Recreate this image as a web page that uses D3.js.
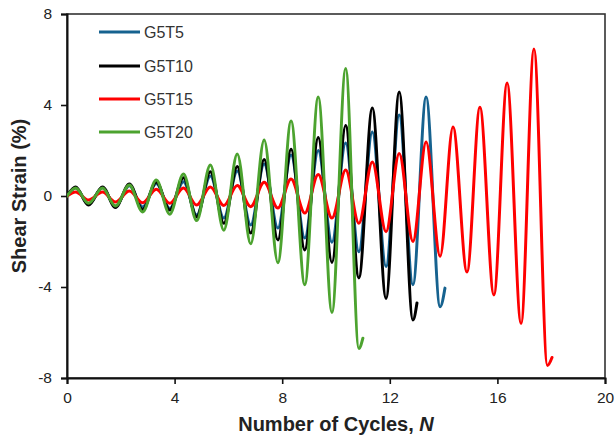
<!DOCTYPE html>
<html>
<head>
<meta charset="utf-8">
<script src="https://cdn.jsdelivr.net/npm/d3@7/dist/d3.min.js"></script>
<style>
  html, body { margin: 0; padding: 0; background: #fff; }
  svg { display: block; font-family: "Liberation Sans", Arial, sans-serif; }
</style>
</head>
<body>
<svg id="chart" width="616" height="443"></svg>
<script>
// Cycle positions (N) of the strain peaks and troughs
const peakN   = [0.32, 1.32, 2.32, 3.32, 4.33, 5.33, 6.33, 7.33, 8.33, 9.34, 10.36, 11.35, 12.35, 13.35, 14.35, 15.35, 16.36, 17.36];
const troughN = [0.80, 1.80, 2.81, 3.82, 4.82, 5.83, 6.83, 7.84, 8.84, 9.85, 10.85, 11.86, 12.86, 13.87, 14.87, 15.87, 16.88, 17.86];

// Shear strain (%) at each peak / trough, and the last recorded point
const g5t5Peaks    = [0.35, 0.36, 0.45, 0.55, 0.63, 0.88, 1.10, 1.41, 1.80, 2.00, 2.33, 2.81, 3.56, 4.35];
const g5t5Troughs  = [-0.35, -0.45, -0.48, -0.55, -0.84, -0.97, -1.27, -1.41, -1.85, -2.03, -2.45, -3.10, -3.90, -4.87];
const g5t5End      = [14.05, -4.05];

const g5t10Peaks   = [0.40, 0.40, 0.53, 0.62, 0.80, 1.07, 1.30, 1.60, 2.05, 2.57, 3.10, 3.87, 4.57];
const g5t10Troughs = [-0.40, -0.50, -0.60, -0.62, -0.92, -1.20, -1.63, -1.93, -2.37, -2.92, -3.60, -4.50, -5.45];
const g5t10End     = [13.01, -4.70];

const g5t15Peaks   = [0.18, 0.18, 0.22, 0.30, 0.35, 0.40, 0.46, 0.60, 0.75, 0.95, 1.14, 1.50, 1.87, 2.37, 3.03, 3.90, 4.97, 6.46];
const g5t15Troughs = [-0.18, -0.26, -0.30, -0.32, -0.40, -0.42, -0.47, -0.53, -0.75, -0.97, -1.20, -1.57, -2.00, -2.65, -3.34, -4.35, -5.60, -7.45];
const g5t15End     = [18.03, -7.10];

const g5t20Peaks   = [0.35, 0.35, 0.48, 0.70, 0.97, 1.36, 1.85, 2.46, 3.30, 4.35, 5.60];
const g5t20Troughs = [-0.32, -0.44, -0.70, -0.80, -1.08, -1.50, -2.10, -2.93, -3.90, -5.12, -6.70];
const g5t20End     = [11.00, -6.25];

const seriesNames  = ["G5T5", "G5T10", "G5T15", "G5T20"];
const seriesColors = ["#16628f", "#000000", "#ff0000", "#4ca32f"];

const xTicks = [0, 4, 8, 12, 16, 20];
const yTicks = [-8, -4, 0, 4, 8];

// Build the ordered turning points of one test record
function record(peaks, troughs, end) {
  const pts = [[0, 0]];
  peaks.forEach((p, i) => {
    pts.push([peakN[i], p]);
    if (i < troughs.length) pts.push([troughN[i], troughs[i]]);
  });
  pts.push(end);
  return pts;
}

const records = [
  record(g5t5Peaks, g5t5Troughs, g5t5End),
  record(g5t10Peaks, g5t10Troughs, g5t10End),
  record(g5t15Peaks, g5t15Troughs, g5t15End),
  record(g5t20Peaks, g5t20Troughs, g5t20End)
];

const svg = d3.select("#chart");
const plot = { left: 67, right: 605, top: 14, bottom: 378 };

const x = d3.scaleLinear().domain([0, 20]).range([plot.left, plot.right]);
const y = d3.scaleLinear().domain([-8, 8]).range([plot.bottom, plot.top]);

// Frame
svg.append("rect")
  .attr("x", plot.left).attr("y", plot.top)
  .attr("width", plot.right - plot.left).attr("height", plot.bottom - plot.top)
  .attr("fill", "none").attr("stroke", "#333").attr("stroke-width", 1.6);

// Axes
const xAxis = svg.append("g")
  .attr("transform", `translate(0,${plot.bottom})`)
  .call(d3.axisBottom(x).tickValues(xTicks).tickSize(6).tickPadding(8).tickFormat(d3.format("d")));
const yAxis = svg.append("g")
  .attr("transform", `translate(${plot.left},0)`)
  .call(d3.axisLeft(y).tickValues(yTicks).tickSize(6).tickPadding(9).tickFormat(d => d < 0 ? "-" + Math.abs(d) : d));

[xAxis, yAxis].forEach(a => {
  a.select(".domain").attr("stroke", "#111").attr("stroke-width", 2);
  a.selectAll(".tick line").attr("stroke", "#111").attr("stroke-width", 1.6);
  a.selectAll(".tick text").attr("fill", "#222").style("font-size", "15.5px");
});

// Strain histories
const line = d3.line()
  .x(d => x(d[0]))
  .y(d => y(d[1]))
  .curve(d3.curveMonotoneX);

svg.append("clipPath").attr("id", "plotClip")
  .append("rect")
  .attr("x", plot.left).attr("y", plot.top)
  .attr("width", plot.right - plot.left).attr("height", plot.bottom - plot.top);

svg.append("g").attr("clip-path", "url(#plotClip)")
  .selectAll("path.series")
  .data(records)
  .join("path")
  .attr("class", "series")
  .attr("d", line)
  .attr("fill", "none")
  .attr("stroke", (d, i) => seriesColors[i])
  .attr("stroke-width", 3)
  .attr("stroke-linejoin", "round")
  .attr("stroke-linecap", "round");

// Legend
const legend = svg.append("g");
const legendY = [32, 66, 99, 132];
seriesNames.forEach((name, i) => {
  legend.append("line")
    .attr("x1", 99).attr("x2", 140)
    .attr("y1", legendY[i]).attr("y2", legendY[i])
    .attr("stroke", seriesColors[i]).attr("stroke-width", 3);
  legend.append("text")
    .attr("x", 144).attr("y", legendY[i])
    .attr("dy", "0.35em")
    .attr("fill", "#333")
    .style("font-size", "16px")
    .text(name);
});

// Axis titles
const xTitle = svg.append("text")
  .attr("x", (plot.left + plot.right) / 2)
  .attr("y", 431)
  .attr("text-anchor", "middle")
  .attr("fill", "#222")
  .style("font-size", "20px")
  .style("font-weight", "bold")
  .text("Number of Cycles, ");
xTitle.append("tspan").style("font-style", "italic").text("N");

svg.append("text")
  .attr("transform", `translate(26,${(plot.top + plot.bottom) / 2}) rotate(-90)`)
  .attr("text-anchor", "middle")
  .attr("fill", "#222")
  .style("font-size", "20px")
  .style("font-weight", "bold")
  .text("Shear Strain (%)");
</script>
</body>
</html>
